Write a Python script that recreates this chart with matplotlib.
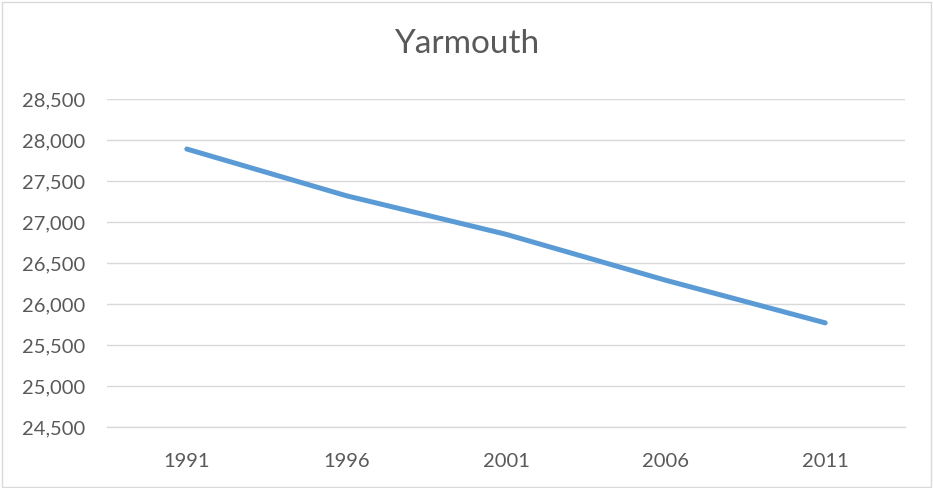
import matplotlib
matplotlib.use("Agg")
import matplotlib.pyplot as plt
from matplotlib.patches import Rectangle
from matplotlib.ticker import FuncFormatter

# data
years = ["1991", "1996", "2001", "2006", "2011"]
population = [27890, 27320, 26850, 26290, 25770]
y_ticks = [24500, 25000, 25500, 26000, 26500, 27000, 27500, 28000, 28500]

plt.rcParams['font.family'] = ['Lato', 'DejaVu Sans']

W, H = 933, 488
fig = plt.figure(figsize=(W / 100, H / 100), dpi=100)
fig.patch.set_facecolor("white")

# chart border
fig.add_artist(Rectangle((2 / W, 1 / H), (W - 4) / W, (H - 3) / H,
                         transform=fig.transFigure, fill=False,
                         edgecolor="#d9d9d9", linewidth=1))

ax = fig.add_axes([107 / W, (H - 427) / H, (905 - 107) / W, (427 - 99) / H])
x = list(range(len(years)))
ax.plot(x, population, color="#5b9bd5", linewidth=3.6, solid_capstyle="round",
        solid_joinstyle="round", zorder=3)

ax.set_xlim(-0.5, len(years) - 0.5)
ax.set_ylim(y_ticks[0], y_ticks[-1])
ax.set_yticks(y_ticks)
ax.yaxis.set_major_formatter(FuncFormatter(lambda v, p: f"{int(v):,}"))
ax.set_xticks(x)
ax.set_xticklabels(years)

ax.grid(axis="y", color="#d9d9d9", linewidth=1.0)
ax.set_axisbelow(True)
for s in ["top", "right", "left"]:
    ax.spines[s].set_visible(False)
ax.spines["bottom"].set_color("#d9d9d9")
ax.spines["bottom"].set_linewidth(1.0)

ax.tick_params(axis="both", length=0, labelsize=14.5, colors="#595959")
ax.tick_params(axis="y", pad=16)
ax.tick_params(axis="x", pad=19)

fig.text(0.5, (H - 44) / H, "Yarmouth", ha="center", va="center",
         fontsize=24, color="#595959")

fig.savefig("out.png", dpi=100)
